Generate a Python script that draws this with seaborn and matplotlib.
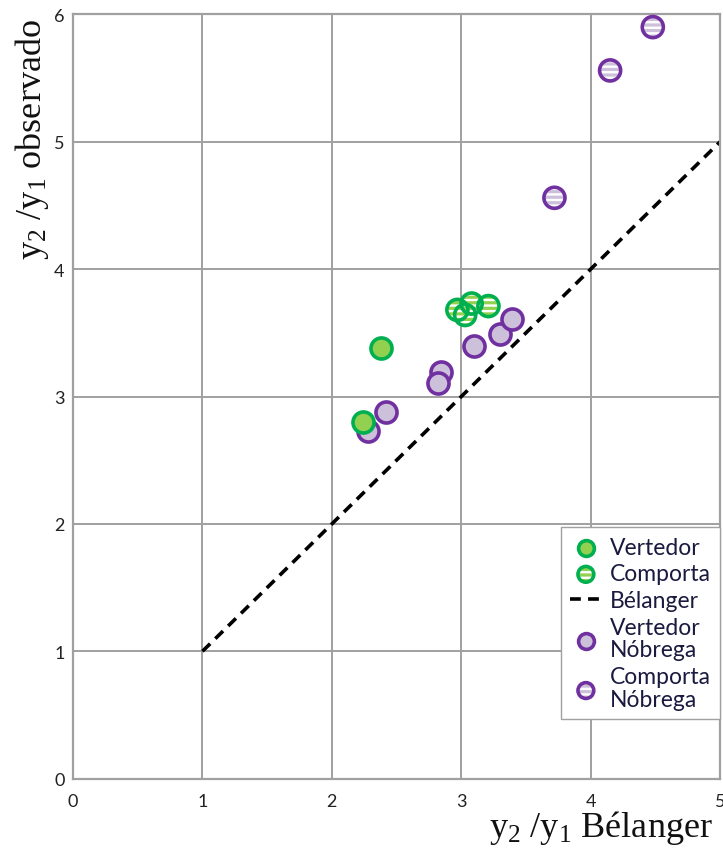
import matplotlib
matplotlib.use("Agg")
import matplotlib.pyplot as plt
import seaborn as sns
import pandas as pd
from matplotlib.legend_handler import HandlerTuple

# ---- data ----
vert_x = [2.38, 2.24]
vert_y = [3.38, 2.80]
comp_x = [2.97, 3.08, 3.03, 3.21]
comp_y = [3.68, 3.73, 3.64, 3.71]
vn_x = [2.28, 2.42, 2.84, 2.82, 3.10, 3.30, 3.39]
vn_y = [2.73, 2.88, 3.19, 3.11, 3.40, 3.49, 3.61]
cn_x = [3.72, 4.15, 4.48]
cn_y = [4.56, 5.56, 5.90]
bel_x = [1, 5]
bel_y = [1, 5]
x_ticks = [0, 1, 2, 3, 4, 5]
y_ticks = [0, 1, 2, 3, 4, 5, 6]
labels = ["Vertedor", "Comporta", "Bélanger", "Vertedor\nNóbrega", "Comporta\nNóbrega"]

# colours
G_FILL, G_EDGE = "#92d050", "#00b050"
P_FILL, P_EDGE = "#ccc0da", "#7030a0"

sns.set_theme(style="white")
plt.rcParams["font.family"] = ["Lato", "DejaVu Sans"]
plt.rcParams["hatch.linewidth"] = 2.3
plt.rcParams["mathtext.default"] = "regular"

fig = plt.figure(figsize=(7.23, 8.54), dpi=100)
ax = fig.add_axes([0.101, 0.087, 0.895, 0.895])

S = 230
LW = 2.6

# Bélanger line
sns.lineplot(x=bel_x, y=bel_y, ax=ax, color="black", lw=2.6,
             linestyle=(0, (3, 2)), zorder=2)
bel_handle = ax.lines[-1]

def striped(xs, ys, fill, edge):
    a = ax.scatter(xs, ys, s=S, facecolor="white", edgecolor=fill,
                   linewidth=0, hatch="---", zorder=3)
    b = ax.scatter(xs, ys, s=S, facecolor="none", edgecolor=edge,
                   linewidth=LW, zorder=3.1)
    return (a, b)

# Nóbrega points
vn_df = pd.DataFrame({"x": vn_x, "y": vn_y})
sns.scatterplot(data=vn_df, x="x", y="y", ax=ax, s=S, color=P_FILL,
                edgecolor=P_EDGE, linewidth=LW, zorder=3)
vn_handle = ax.collections[-1]
cn_handle = striped(cn_x, cn_y, P_FILL, P_EDGE)

# Comporta / Vertedor
comp_handle = striped(comp_x, comp_y, G_FILL, G_EDGE)
v_df = pd.DataFrame({"x": vert_x, "y": vert_y})
sns.scatterplot(data=v_df, x="x", y="y", ax=ax, s=S, color=G_FILL,
                edgecolor=G_EDGE, linewidth=LW, zorder=4)
v_handle = ax.collections[-1]

ax.set_xlim(0, 5)
ax.set_ylim(0, 6)
ax.set_xticks(x_ticks)
ax.set_yticks(y_ticks)
ax.tick_params(length=0, labelsize=13, colors="#222222")
ax.tick_params(axis="x", pad=10)
ax.tick_params(axis="y", pad=6)
ax.grid(True, color="#a0a0a0", lw=1.4)
ax.set_axisbelow(True)
for sp in ax.spines.values():
    sp.set_color("#a0a0a0")
    sp.set_linewidth(1.6)

ax.set_xlabel("$y_2$ /$y_1$ Bélanger", family="Liberation Serif",
              fontsize=26, loc="right", color="#111111")
ax.xaxis.set_label_coords(0.989, -0.038)
ax.set_ylabel("$y_2$ /$y_1$ observado", family="Liberation Serif",
              fontsize=26, loc="top", color="#111111")
ax.yaxis.set_label_coords(-0.034, 0.995)

leg = ax.legend([v_handle, comp_handle, bel_handle, vn_handle, cn_handle],
                labels, handler_map={tuple: HandlerTuple(ndivide=1)},
                loc="lower right", bbox_to_anchor=(1.0, 0.078),
                borderaxespad=0, fontsize=16.5, markerscale=0.75,
                handlelength=1.4, handletextpad=0.35, labelspacing=0.25,
                borderpad=0.4, fancybox=False, framealpha=1,
                edgecolor="#a0a0a0")
leg.get_frame().set_linewidth(1.0)
for t in leg.get_texts():
    t.set_color("#1a1a40")
    t.set_linespacing(1.1)

fig.savefig("out.png", dpi=100)
